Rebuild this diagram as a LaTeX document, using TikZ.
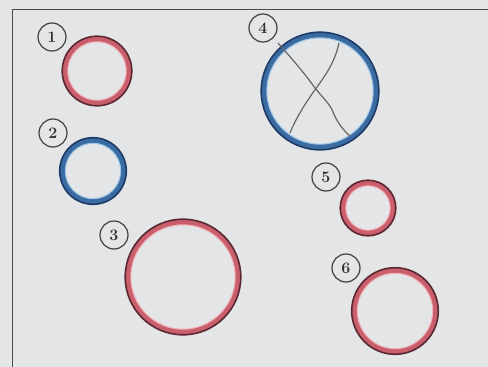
\documentclass[tikz,border=0pt]{standalone}
\begin{document}
\begin{tikzpicture}[x=1pt,y=-1pt,
  lbl/.style={circle,draw=black!75,line width=1.2pt,minimum size=28pt,inner sep=0pt,font=\bfseries\fontsize{16}{16}\selectfont,text=black!80}]
\definecolor{bg}{HTML}{E3E5E7}
\definecolor{ringred}{HTML}{C95F6C}
\definecolor{reddark}{HTML}{5A2830}
\definecolor{redlight}{HTML}{F2B0B4}
\definecolor{ringblue}{HTML}{3A6CA2}
\definecolor{bluedark}{HTML}{1E3A66}
\definecolor{bluelight}{HTML}{9CC6E8}
\clip (0,0) rectangle (488,367);
\fill[bg] (0,0) rectangle (488,367);
\draw[black!70,line width=0.9pt] (12,9) rectangle (498,378);
% rings
\newcommand{\myring}[5]{%
  \draw[#4,line width=5.5pt] (#1,#2) circle[radius=#3];
  \draw[#5,line width=1.6pt] (#1,#2) circle[radius=#3+2.8];
}
\newcommand{\myinner}[4]{%
  \draw[#4,line width=1pt] (#1,#2) circle[radius=#3-2.8];
}
\myring{97}{71}{32}{ringred}{reddark}\myinner{97}{71}{32}{redlight}
\myring{93}{171}{30.5}{ringblue}{bluedark}\myinner{93}{171}{30.5}{bluelight}
\myring{183}{277}{55}{ringred}{reddark}\myinner{183}{277}{55}{redlight}
\myring{320}{91}{56}{ringblue}{bluedark}\myinner{320}{91}{56}{bluelight}
\myring{368}{208}{25}{ringred}{reddark}\myinner{368}{208}{25}{redlight}
\myring{395}{311}{40.5}{ringred}{reddark}\myinner{395}{311}{40.5}{redlight}
% cross in 4
\draw[black!60,line width=1.2pt] (278,43) .. controls (295,62) and (308,78) .. (315,88)
  .. controls (323,98) and (330,104) .. (333,112) .. controls (337,122) and (343,130) .. (350,136);
\draw[black!60,line width=1.2pt] (339,43) .. controls (335,62) and (325,76) .. (317,87)
  .. controls (306,102) and (296,118) .. (290,133);
% labels
\node[lbl] (n1) at (52,37) {1};
\node[lbl] (n2) at (53,133) {2};
\node[lbl] (n3) at (114,235) {3};
\node[lbl] (n4) at (263,28) {4};
\node[lbl] (n5) at (326,177) {5};
\node[lbl] (n6) at (346,268) {6};
\end{tikzpicture}
\end{document}
